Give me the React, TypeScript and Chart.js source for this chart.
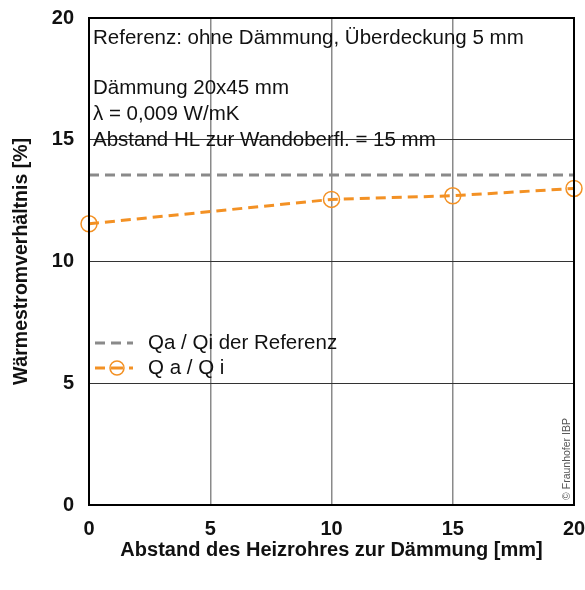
import React, { useEffect, useRef } from "react";
import { Chart, registerables } from "chart.js";

Chart.register(...registerables);

const distances = [0, 10, 15, 20];
const ratioValues = [11.55, 12.55, 12.7, 13.0];
const referenceX = [0, 20];
const referenceValues = [13.55, 13.55];
const tickValues = [0, 5, 10, 15, 20];
const seriesLabels = ["Qa / Qi der Referenz", "Q a / Q i"];
const annotationLines = [
  "Referenz: ohne Dämmung, Überdeckung 5 mm",
  "Dämmung 20x45 mm",
  "λ = 0,009 W/mK",
  "Abstand HL zur Wandoberfl. = 15 mm",
];
const xTitle = "Abstand des Heizrohres zur Dämmung [mm]";
const yTitle = "Wärmestromverhältnis [%]";
const copyright = "© Fraunhofer IBP";

const GRAY = "#8a8a8a";
const ORANGE = "#f39124";
const FONT = "Liberation Sans, Arial, sans-serif";

const overlayPlugin = {
  id: "overlay",
  afterDatasetsDraw(chart: any) {
    const { ctx, chartArea } = chart;
    const { left, right, top, bottom } = chartArea;
    ctx.save();
    // frame
    ctx.strokeStyle = "#000";
    ctx.lineWidth = 2;
    ctx.setLineDash([]);
    ctx.strokeRect(left, top, right - left, bottom - top);

    // annotation text
    ctx.fillStyle = "#111";
    ctx.font = `20.5px ${FONT}`;
    ctx.textAlign = "left";
    ctx.textBaseline = "middle";
    const ys = [top + 20, top + 70, top + 96, top + 122];
    annotationLines.forEach((t, i) => {
      ctx.fillText(t, left + 4, ys[i]);
    });

    // legend
    const ds = chart.data.datasets;
    const rows = [top + 325, top + 350];
    rows.forEach((y, i) => {
      const d = ds[i];
      ctx.strokeStyle = d.borderColor;
      ctx.lineWidth = 3;
      ctx.setLineDash(d.borderDash);
      ctx.beginPath();
      ctx.moveTo(left + 6, y);
      ctx.lineTo(left + 44, y);
      ctx.stroke();
      ctx.setLineDash([]);
      if (d.pointRadius > 0) {
        ctx.fillStyle = "#fff";
        ctx.fillRect(left + 16, y - 3, 24, 6);
        ctx.strokeStyle = d.pointBorderColor;
        ctx.lineWidth = 1.5;
        ctx.beginPath();
        ctx.arc(left + 28, y, 7, 0, Math.PI * 2);
        ctx.stroke();
        ctx.lineWidth = 3;
        ctx.beginPath();
        ctx.moveTo(left + 22, y);
        ctx.lineTo(left + 34, y);
        ctx.stroke();
      }
      ctx.fillStyle = "#111";
      ctx.font = `20.5px ${FONT}`;
      ctx.fillText(d.label, left + 59, y);
    });

    // copyright
    ctx.save();
    ctx.translate(right - 7, bottom - 46);
    ctx.rotate(-Math.PI / 2);
    ctx.font = `10.5px ${FONT}`;
    ctx.fillStyle = "#555";
    ctx.textAlign = "center";
    ctx.fillText(copyright, 0, 0);
    ctx.restore();
    ctx.restore();
  },
};

export default function App() {
  const ref = useRef<HTMLCanvasElement>(null);
  useEffect(() => {
    document.body.style.margin = "0";
    const chart = new Chart(ref.current!, {
      type: "line",
      data: {
        datasets: [
          {
            label: seriesLabels[0],
            data: referenceX.map((x, i) => ({ x, y: referenceValues[i] })),
            borderColor: GRAY,
            borderWidth: 3,
            borderDash: [10, 6],
            pointRadius: 0,
            pointBorderColor: GRAY,
            fill: false,
          },
          {
            label: seriesLabels[1],
            data: distances.map((x, i) => ({ x, y: ratioValues[i] })),
            borderColor: ORANGE,
            borderWidth: 3,
            borderDash: [10, 6],
            pointRadius: 8,
            pointBorderWidth: 1.5,
            pointBorderColor: ORANGE,
            pointBackgroundColor: "rgba(0,0,0,0)",
            fill: false,
          },
        ] as any,
      },
      options: {
        animation: false,
        responsive: false,
        clip: false as any,
        layout: { padding: { top: 18, right: 11, left: 0, bottom: 0 } },
        plugins: { legend: { display: false }, tooltip: { enabled: false } },
        scales: {
          x: {
            type: "linear",
            min: 0,
            max: 20,
            afterBuildTicks: (s: any) => {
              s.ticks = tickValues.map((v) => ({ value: v }));
            },
            afterFit: (s: any) => {
              s.height = 85;
              s.paddingLeft = 0;
              s.paddingRight = 0;
            },
            ticks: {
              color: "#111",
              font: { family: FONT, size: 20, weight: "bold" },
              padding: 12,
              maxRotation: 0,
            },
            grid: { color: "#8a8a8a", lineWidth: 1.5, drawTicks: false },
            border: { color: "#000", width: 2 },
            title: {
              display: true,
              text: xTitle,
              color: "#111",
              font: { family: FONT, size: 20, weight: "bold" },
              padding: { top: 0, bottom: 28 },
            },
          },
          y: {
            min: 0,
            max: 20,
            afterBuildTicks: (s: any) => {
              s.ticks = tickValues.map((v) => ({ value: v }));
            },
            afterFit: (s: any) => {
              s.width = 89;
              s.paddingTop = 0;
              s.paddingBottom = 0;
            },
            ticks: {
              color: "#111",
              font: { family: FONT, size: 20, weight: "bold" },
              padding: 15,
            },
            grid: { color: "#333", lineWidth: 1, drawTicks: false },
            border: { color: "#000", width: 2 },
            title: {
              display: true,
              text: yTitle,
              color: "#111",
              font: { family: FONT, size: 19.5, weight: "bold" },
              padding: { top: 10, bottom: 0 },
            },
          },
        },
      },
      plugins: [overlayPlugin],
    });
    return () => chart.destroy();
  }, []);
  return <canvas ref={ref} width={585} height={590} style={{ display: "block" }} />;
}
